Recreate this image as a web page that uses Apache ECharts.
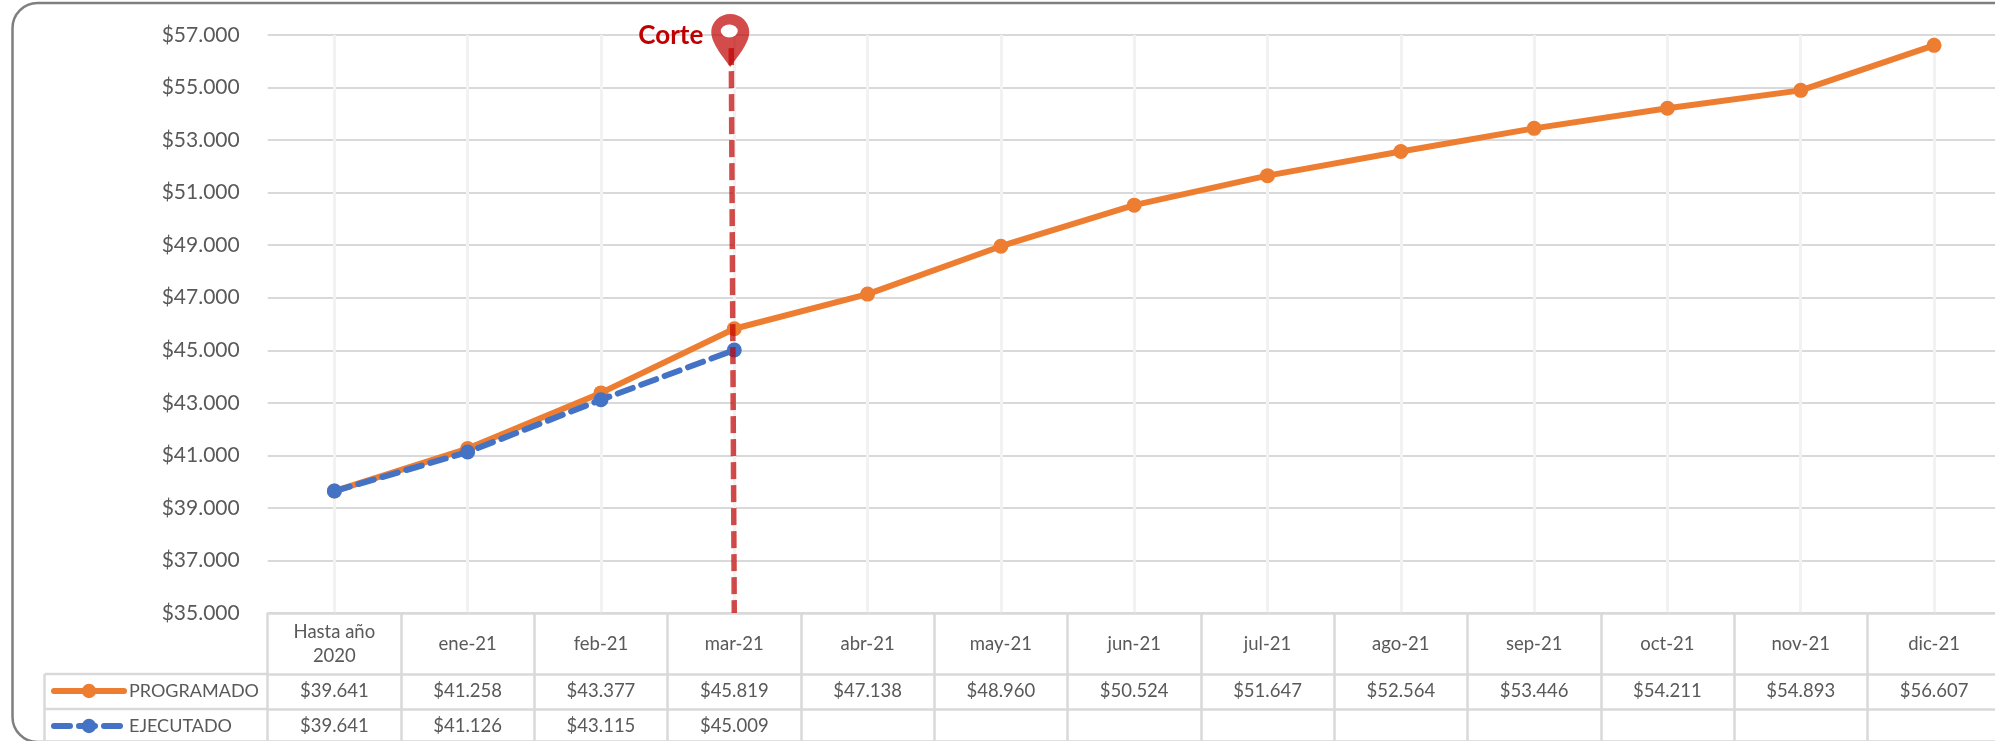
<!DOCTYPE html>
<html><head><meta charset="utf-8">
<style>html,body{margin:0;padding:0;background:#fff;overflow:hidden}#c{width:1995px;height:741px}</style>
<script src="https://cdn.jsdelivr.net/npm/echarts@6/dist/echarts.min.js"></script>
</head><body><div id="c"></div>
<script>
const categories=['Hasta año\n2020','ene-21','feb-21','mar-21','abr-21','may-21','jun-21','jul-21','ago-21','sep-21','oct-21','nov-21','dic-21'];
const programado=[39641,41258,43377,45819,47138,48960,50524,51647,52564,53446,54211,54893,56607];
const ejecutado=[39641,41126,43115,45009,null,null,null,null,null,null,null,null,null];
const cutCategory='mar-21';
const yMin=35000,yMax=57000,yStep=2000;
const money=v=>v==null?'':'$'+String(v).replace(/\B(?=(\d{3})+$)/g,'.');
const FONT='Lato',TXT='#595959',LINE='#d9d9d9';
const pin='path://M19 0C8.5 0 0 8 0 18C0 30 13 44 19 53C25 44 38 30 38 18C38 8 29.5 0 19 0Z';
function tableAxis(names,offset,tick,extra){
  return Object.assign({type:'category',data:names,position:'bottom',offset:offset,boundaryGap:true,
    axisLine:{show:true,lineStyle:{color:LINE,width:2.5}},
    axisTick:{show:true,length:tick,lineStyle:{color:LINE,width:2.5}},
    axisLabel:{interval:0,hideOverlap:false,color:TXT,fontFamily:FONT,fontSize:18.5,margin:17,lineHeight:24,verticalAlign:'middle'},
    splitLine:{show:false}},extra||{});
}
const chart=echarts.init(document.getElementById('c'),null,{renderer:'canvas'});
const cutLine=(a,b)=>({silent:true,symbol:'none',z:6,label:{show:false},
  lineStyle:{color:'rgba(192,0,0,0.7)',width:5.5,type:[17,6]},data:[[a,b]]});
chart.setOption({
  animation:false,
  backgroundColor:'#fff',
  grid:{left:267.7,top:35,width:1733,height:578,containLabel:false,outerBoundsMode:'none'},
  graphic:[
    {type:'rect',z:-1,shape:{x:12.5,y:3,width:2100,height:739,r:25},style:{fill:'none',stroke:'#7f7f7f',lineWidth:2.5},silent:true},
    {type:'line',shape:{x1:44.5,y1:674,x2:268,y2:674},style:{stroke:LINE,lineWidth:2.5},silent:true},
    {type:'line',shape:{x1:44.5,y1:709,x2:268,y2:709},style:{stroke:LINE,lineWidth:2.5},silent:true},
    {type:'line',shape:{x1:44.5,y1:674,x2:44.5,y2:741},style:{stroke:LINE,lineWidth:2.5},silent:true}
  ],
  legend:{orient:'vertical',left:51,top:682,padding:0,itemWidth:70,itemHeight:18,itemGap:17,align:'left',
    textStyle:{color:TXT,fontFamily:FONT,fontSize:18},
    data:[
      {name:'PROGRAMADO',lineStyle:{color:'#ed7d31',width:6,cap:'round'}},
      {name:'EJECUTADO',lineStyle:{color:'#4472c4',width:6,type:[16,9],cap:'round'}}
    ]},
  xAxis:[
    tableAxis(categories,0,61,{
      splitLine:{show:true,alignWithLabel:true,lineStyle:{color:'#f2f2f2',width:3}},
      axisLabel:{interval:0,hideOverlap:false,color:TXT,fontFamily:FONT,fontSize:18.5,margin:31,lineHeight:24,verticalAlign:'middle'}
    }),
    tableAxis(programado.map(money),61,35),
    tableAxis(ejecutado.map(money),96,35)
  ],
  yAxis:{type:'value',min:yMin,max:yMax,interval:yStep,
    axisLine:{show:false},axisTick:{show:false},
    axisLabel:{color:TXT,fontFamily:FONT,fontSize:21,margin:28,formatter:money},
    splitLine:{lineStyle:{color:LINE,width:2}}},
  series:[
    {name:'PROGRAMADO',type:'line',data:programado,symbol:'circle',symbolSize:15,z:3,
      lineStyle:{color:'#ed7d31',width:6,cap:'round'},itemStyle:{color:'#ed7d31'}},
    {name:'EJECUTADO',type:'line',data:ejecutado,symbol:'circle',symbolSize:15,z:4,connectNulls:false,
      lineStyle:{color:'#4472c4',width:6,type:[16,9],cap:'round'},itemStyle:{color:'#4472c4'},
      markLine:cutLine({coord:[cutCategory,56500]},{coord:[cutCategory,yMin]}),
      markPoint:{silent:true,z:7,data:[
        {coord:[cutCategory,yMax],symbol:pin,symbolSize:[38,53],symbolOffset:[-4,5.5],
          itemStyle:{color:'rgba(192,0,0,0.7)'},
          label:{show:true,formatter:'Corte',position:'left',distance:8,offset:[0,-5],
            color:'#c00000',fontFamily:FONT,fontWeight:'bold',fontSize:26}},
        {coord:[cutCategory,yMax],symbol:'circle',symbolSize:[17,13],symbolOffset:[-5,-4],
          itemStyle:{color:'#fff'},label:{show:false}}
      ]}}
  ]
});
// the hand-drawn cut line leans slightly: its top sits 3px left of the category centre
const cx=chart.convertToPixel({xAxisIndex:0},cutCategory);
const py=v=>chart.convertToPixel({yAxisIndex:0},v);
chart.setOption({series:[{name:'EJECUTADO',markLine:cutLine({x:cx-3,y:py(56500)},{x:cx,y:py(yMin)})}]});
</script></body></html>
